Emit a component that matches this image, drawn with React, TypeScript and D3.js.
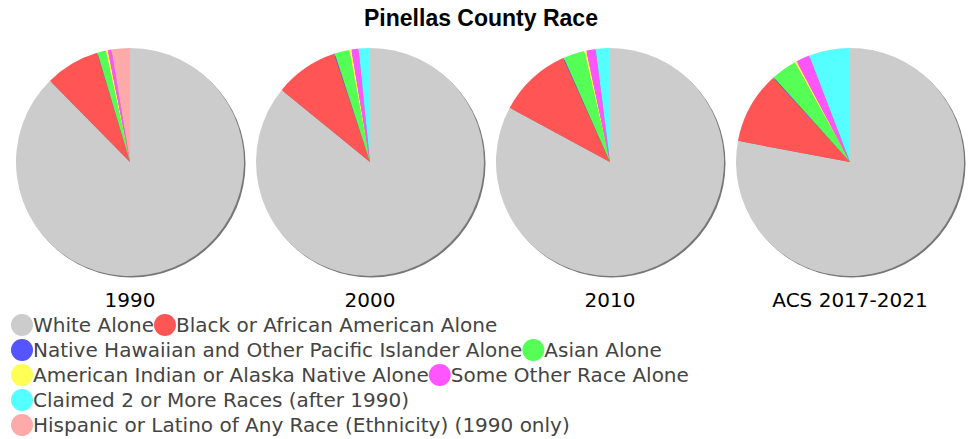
import { useEffect, useRef } from 'react';
import * as d3 from 'd3';

const categories = [
  'White Alone',
  'Black or African American Alone',
  'Native Hawaiian and Other Pacific Islander Alone',
  'Asian Alone',
  'American Indian or Alaska Native Alone',
  'Some Other Race Alone',
  'Claimed 2 or More Races (after 1990)',
  'Hispanic or Latino of Any Race (Ethnicity) (1990 only)',
];
const colors = ['#cccccc', '#ff5555', '#5555ff', '#55ff55', '#ffff55', '#ff55ff', '#55ffff', '#ffaaaa'];
const years = ['1990', '2000', '2010', 'ACS 2017-2021'];
const v1990 = [87.4, 7.7, 0.05, 1.2, 0.3, 0.5, 0, 2.6];
const v2000 = [85.9, 9.0, 0.1, 2.1, 0.3, 1.0, 1.6, 0];
const v2010 = [82.3, 10.3, 0.1, 3.0, 0.3, 1.3, 2.0, 0];
const v2021 = [77.5, 10.2, 0.1, 3.6, 0.3, 1.9, 5.8, 0];
const series = [v1990, v2000, v2010, v2021];
const legendRows = [[0, 1], [2, 3], [4, 5], [6], [7]];

export default function App() {
  const ref = useRef<SVGSVGElement>(null);

  useEffect(() => {
    const svg = d3.select(ref.current);
    svg.selectAll('*').remove();
    const font = 'DejaVu Sans, sans-serif';

    svg.append('text').attr('x', 481).attr('y', 26).attr('text-anchor', 'middle')
      .attr('font-family', 'Liberation Sans, Arial, sans-serif').attr('font-weight', 'bold')
      .attr('font-size', 23).text('Pinellas County Race');

    const x = d3.scalePoint<string>().domain(years).range([130, 850]);
    const r = 114;
    const pie = d3.pie<number>().sort(null).value(d => d);
    const arc = d3.arc<d3.PieArcDatum<number>>().innerRadius(0).outerRadius(r);

    series.forEach((vals, i) => {
      const g = svg.append('g').attr('transform', `translate(${x(years[i])},162)`);
      g.append('circle').attr('cx', 1.5).attr('cy', 1.5).attr('r', r).attr('fill', '#777');
      g.selectAll('path').data(pie(vals)).join('path')
        .attr('d', arc).attr('fill', (_, j) => colors[j]);
      svg.append('text').attr('x', x(years[i])!).attr('y', 307).attr('text-anchor', 'middle')
        .attr('font-family', font).attr('font-size', 20).text(years[i]);
    });

    legendRows.forEach((row, ri) => {
      const y = 325 + ri * 25;
      let cx = 22;
      row.forEach(ci => {
        svg.append('circle').attr('cx', cx).attr('cy', y).attr('r', 11).attr('fill', colors[ci]);
        const t = svg.append('text').attr('x', cx + 11).attr('y', y + 7)
          .attr('font-family', font).attr('font-size', 20).attr('fill', '#444').text(categories[ci]);
        const w = (t.node() as SVGTextElement).getComputedTextLength();
        cx = cx + 11 + w + 11;
      });
    });
  }, []);

  return <svg ref={ref} width={972} height={439} style={{ position: 'absolute', left: 0, top: 0 }} />;
}
